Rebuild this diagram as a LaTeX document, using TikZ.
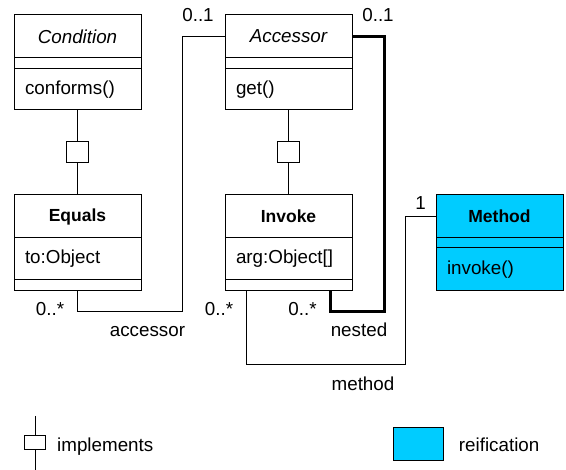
\documentclass[tikz,border=0pt]{standalone}
\usepackage{fontspec}
\setmainfont{Liberation Sans}
\definecolor{reif}{RGB}{0,204,255}
\newcommand{\dfont}{\fontsize{18.8}{22}\selectfont}
\newcommand{\bfnt}{\fontsize{17.5}{21}\selectfont\bfseries}
\begin{document}
\begin{tikzpicture}[x=1pt,y=-1pt,
  box/.style={draw, line width=1pt, minimum width=127pt, inner sep=0pt, outer sep=0pt},
  ttl/.style={box, minimum height=43pt, font=\dfont},
  btl/.style={box, minimum height=43pt, font=\bfnt},
  emp/.style={box, minimum height=11pt},
  sec/.style={box, minimum height=42pt, text width=105pt, align=left, font=\dfont},
  assoc/.style={draw, line width=1pt},
  nest/.style={draw, line width=3pt},
  impl/.style={draw, fill=white, line width=1pt, minimum width=22pt, minimum height=21pt, inner sep=0pt},
  implL/.style={draw, fill=white, line width=1pt, minimum width=21pt, minimum height=14pt, inner sep=0pt},
  lbl/.style={font=\dfont, inner sep=0pt}]
\useasboundingbox (0,0) rectangle (566,470);

% classes
\node[ttl] (cond) at (77.5,36.5) {\itshape Condition};
\node[emp, anchor=north] (cond-a) at (cond.south) {};
\node[sec, anchor=north, minimum height=41pt] (cond-m) at (cond-a.south) {conforms()};

\node[ttl] (acc) at (288.5,36.5) {\itshape Accessor};
\node[emp, anchor=north] (acc-a) at (acc.south) {};
\node[sec, anchor=north, minimum height=41pt] (acc-m) at (acc-a.south) {get()};

\node[btl] (eq) at (77.5,216.5) {Equals};
\node[sec, anchor=north] (eq-a) at (eq.south) {to:Object};
\node[emp, anchor=north] (eq-m) at (eq-a.south) {};

\node[btl] (inv) at (288.5,216.5) {Invoke};
\node[sec, anchor=north] (inv-a) at (inv.south) {arg:Object[]};
\node[emp, anchor=north] (inv-m) at (inv-a.south) {};

\node[btl, fill=reif] (meth) at (499.5,216.5) {Method};
\node[emp, fill=reif, anchor=north, minimum height=10pt] (meth-a) at (meth.south) {};
\node[sec, fill=reif, anchor=north, minimum height=43pt] (meth-m) at (meth-a.south) {invoke()};

% implements
\draw[assoc] (cond-m.south) -- node[impl] (i1) {} (eq.north);
\draw[assoc] (acc-m.south) -- node[impl] (i2) {} (inv.north);

% associations
\coordinate (accB) at (182.7,311.7);
\draw[assoc] (eq-m.south) |- (accB) |- (acc.west);
\coordinate (nestB) at (384,311.7);
\coordinate (invN) at (330.7,291);
\draw[nest] (acc.east) -| (nestB) -| (invN);
\coordinate (invM) at (246.7,291);
\coordinate (methB) at (405,364.3);
\draw[assoc] (invM) |- (methB) |- (meth.west);

% labels
\node[lbl, anchor=base] (m1) at (198,22) {0..1};
\node[lbl, anchor=base] (m2) at (378,22) {0..1};
\node[lbl, anchor=base] (m3) at (50,315.5) {0..*};
\node[lbl, anchor=base] (m4) at (219,315.5) {0..*};
\node[lbl, anchor=base] (m5) at (302.5,315.5) {0..*};
\node[lbl, anchor=base] (m6) at (420.5,210) {1};
\node[lbl, anchor=base] (r1) at (147.5,337) {accessor};
\node[lbl, anchor=base] (r2) at (359,337) {nested};
\node[lbl, anchor=base] (r3) at (363,391) {method};

% legend
\coordinate (lgT) at (35,416);
\coordinate (lgB) at (35,470);
\draw[assoc] (lgT) -- node[implL] (lgS) {} (lgB);
\node[lbl, anchor=base west] (lgI) at (57,452) {implements};
\node[draw, fill=reif, line width=1pt, minimum width=49.6pt, minimum height=32.3pt, inner sep=0pt] (lgR) at (418.5,443.9) {};
\node[lbl, anchor=base west] (lgRt) at (458.7,452) {reification};
\end{tikzpicture}
\end{document}
